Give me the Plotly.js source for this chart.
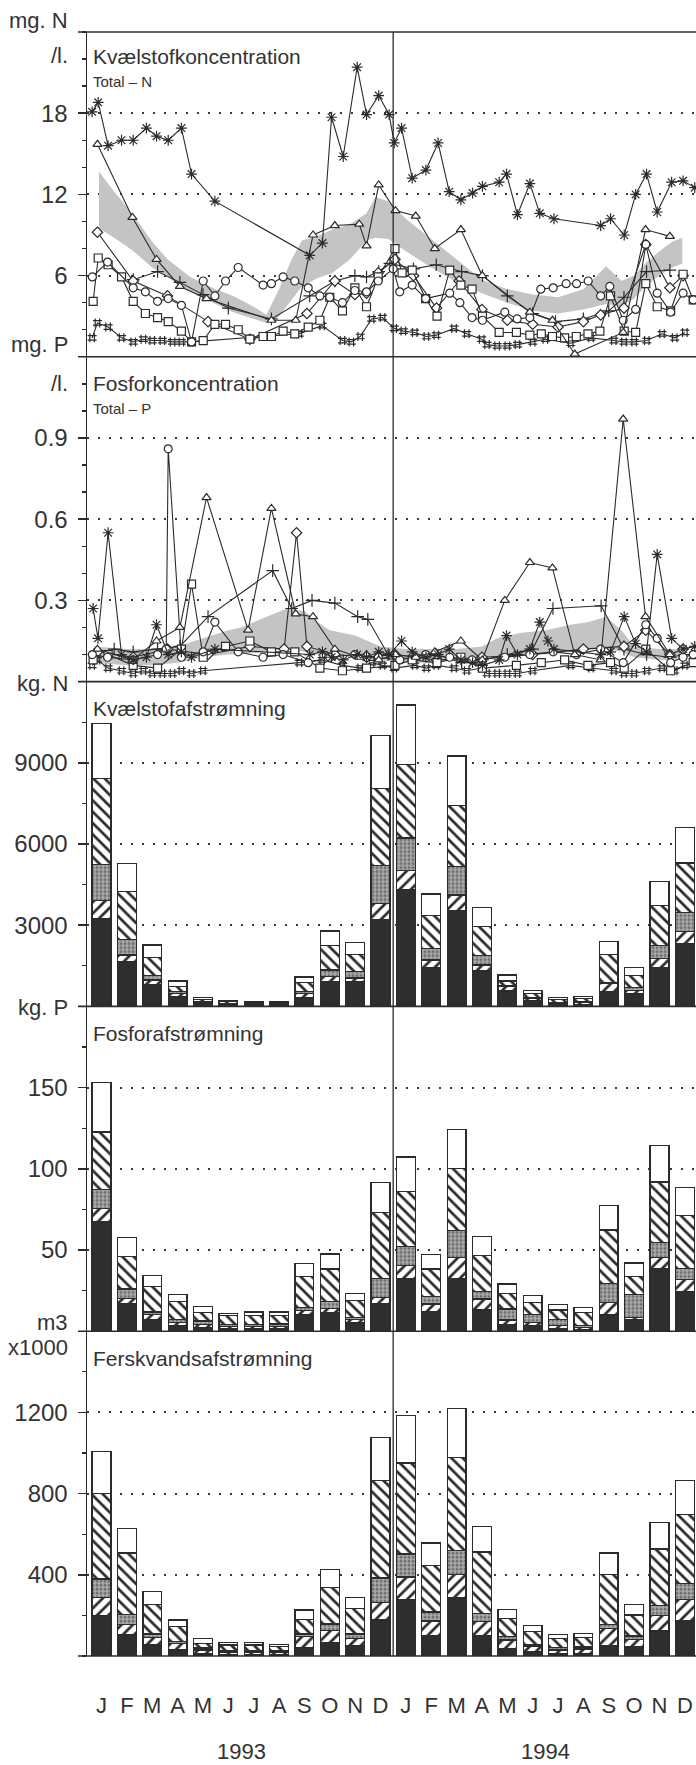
<!DOCTYPE html>
<html><head><meta charset="utf-8">
<script src="https://cdn.plot.ly/plotly-3.0.1.min.js"></script>
<style>body{margin:0;background:#fff}#c{width:696px;height:1765px}</style>
</head><body><div id="c"></div>
<script>
// ---------- categories ----------
const months = ['J','F','M','A','M','J','J','A','S','O','N','D','J','F','M','A','M','J','J','A','S','O','N','D'];
const monthIdx = months.map((m,i)=>i);
const years = ['1993','1994'];
const yearPos = [5.5,17.5];

// ---------- Kvælstofkoncentration (mg N/l), x = month index (fractional) ----------
const nAstX = [-0.37,-0.13,0.26,0.79,1.25,1.77,2.17,2.63,3.15,3.55,4.47,8.21,8.71,9.07,9.53,10.08,10.45,10.93,11.34,11.54,11.83,12.25,12.79,13.27,13.71,14.17,14.63,15.02,15.68,15.97,16.40,16.89,17.28,17.84,19.68,20.07,20.61,21.06,21.49,21.91,22.48,22.93,23.39];
const nAstY = [18.1,18.8,15.6,16.0,16.0,16.9,16.3,16.0,16.9,13.5,11.5,7.5,8.4,17.7,14.8,21.4,17.9,19.3,17.9,15.8,16.9,13.2,13.8,15.8,12.2,11.6,12.1,12.6,12.9,13.5,10.5,12.8,10.6,10.2,9.7,10.2,9.0,12.0,13.5,10.7,12.9,13.0,12.5];
const nTriX = [-0.16,1.22,2.17,3.09,4.14,6.70,7.66,8.34,9.20,10.16,10.45,10.93,11.59,12.39,13.14,14.17,15.01,16.89,17.78,18.66,20.57,21.45,22.41];
const nTriY = [15.7,10.3,7.2,5.2,4.3,2.7,2.7,9.0,9.7,9.8,8.2,12.7,10.8,10.4,8.0,9.4,6.0,3.3,2.7,0.2,1.8,9.4,8.9];
const nCirX = [-0.36,0.24,1.25,1.73,2.21,2.63,3.15,3.55,4.01,4.47,4.89,5.39,6.37,6.70,7.16,7.62,8.15,8.61,9.0,9.5,9.99,10.45,10.91,11.5,11.76,12.25,12.78,13.73,14.13,14.61,15.02,15.90,16.39,16.89,17.32,17.81,18.32,18.73,19.19,19.68,20.04,20.57,21.06,21.46,21.91,22.44,22.93,23.33];
const nCirY = [5.9,7.0,5.1,4.8,4.1,4.3,3.8,1.1,5.6,4.5,5.6,6.6,5.3,5.4,5.9,5.6,5.1,4.5,4.4,4.0,4.9,4.8,5.6,6.5,4.8,5.3,4.3,4.7,4.0,2.9,2.7,3.3,2.8,2.9,5.0,5.1,5.4,5.4,5.6,4.5,5.2,2.7,3.5,8.3,4.7,3.3,4.7,4.2];
const nSqX = [-0.33,-0.13,0.26,0.79,1.25,1.73,2.21,2.63,3.15,3.55,4.01,4.47,4.89,5.39,5.85,6.37,6.70,7.16,7.62,8.15,8.61,9.0,9.5,9.99,10.45,10.91,11.57,11.85,12.25,12.78,13.23,13.73,14.17,14.61,15.02,15.68,16.36,16.89,17.34,17.78,18.26,18.72,19.18,19.65,20.07,20.61,21.06,21.46,21.91,22.44,22.93,23.33];
const nSqY = [4.1,7.3,6.8,5.9,4.1,3.2,2.9,2.6,1.9,1.1,1.2,2.4,2.4,2.0,1.3,1.5,1.5,1.9,1.7,2.2,2.7,4.4,3.4,5.1,3.7,5.9,8.0,6.2,6.4,4.3,3.0,6.4,5.3,5.0,3.0,1.8,1.8,1.6,1.7,1.5,1.4,1.5,1.7,1.9,4.5,1.9,1.8,5.4,3.7,3.4,6.1,4.2];
const nDiaX = [-0.16,1.25,2.6,4.2,5.85,8.1,9.2,9.99,10.45,10.91,11.57,12.3,13.21,14.1,15.0,16.0,17.0,18.0,19.0,19.68,20.6,21.46,22.41,22.93];
const nDiaY = [9.2,5.6,4.5,2.6,1.3,3.2,5.6,4.6,4.7,6.2,7.2,6.0,3.6,5.6,3.5,2.7,2.4,2.2,2.6,3.1,3.6,8.3,5.1,6.0];
const nPlusX = [1.25,2.21,3.09,4.0,5.0,6.7,8.21,9.2,9.99,10.45,10.93,11.37,12.3,13.2,14.2,15.02,16.0,17.0,17.9,19.0,20.0,20.6,21.49,22.41];
const nPlusY = [5.7,6.3,5.5,4.6,3.6,2.8,4.5,5.6,6.0,5.9,6.3,6.9,6.5,6.8,6.3,6.0,4.5,3.2,2.6,2.8,3.4,4.4,6.3,6.4];
const nHashX = [-0.37,-0.16,0.26,0.79,1.25,1.65,2.0,2.4,2.8,3.15,3.55,7.8,8.7,9.5,9.85,10.2,10.65,11.08,11.54,11.9,12.35,12.81,13.2,13.9,14.4,14.99,15.2,15.6,16.0,16.4,17.0,17.5,18.5,19.3,20.2,20.6,21.0,21.5,22.1,22.6,23.0];
const nHashY = [1.4,2.5,2.2,1.4,1.1,1.3,1.2,1.2,1.1,1.1,1.1,1.7,2.3,1.2,1.1,1.5,2.8,2.9,2.1,1.9,1.8,1.5,1.6,2.1,1.7,1.3,0.9,0.8,0.8,0.9,1.1,1.3,1.0,1.4,1.2,1.1,1.1,1.2,1.7,1.4,1.8];
const bandNX  = [-0.1,0.5,1.2,2.0,2.6,3.5,4.5,5.2,6.0,6.5,7.0,7.5,7.9,8.5,9.1,9.8,10.45,10.8,11.3,12.0,13.0,14.0,15.0,16.0,17.0,18.0,19.0,19.9,20.5,21.0,21.5,22.0,22.5,22.9];
const bandNLo = [9.5,8.8,7.9,6.6,5.9,4.8,3.9,3.3,2.8,2.5,3.0,4.2,5.2,5.8,6.2,7.2,8.6,8.8,8.7,7.8,6.6,5.5,4.7,4.0,3.4,3.2,3.5,3.9,3.7,4.3,5.3,6.0,6.6,6.9];
const bandNHi = [13.7,12.2,10.6,8.5,7.2,5.9,5.0,4.5,3.7,3.1,5.0,7.2,8.6,8.9,9.4,9.8,10.6,11.8,11.5,10.2,8.7,7.2,5.7,5.0,4.6,4.4,5.0,6.7,5.6,6.0,7.0,7.8,8.5,8.8];

// ---------- Fosforkoncentration (mg P/l) ----------
const pAstX = [-0.33,-0.14,0.26,0.79,1.25,1.77,2.17,2.63,3.15,3.55,4.47,8.21,8.71,9.07,9.53,10.08,10.45,10.93,11.34,11.83,12.25,12.79,13.27,13.71,14.17,14.63,15.02,15.68,15.97,16.40,16.89,17.28,17.6,17.84,19.68,20.07,20.61,21.06,21.49,21.91,22.48,22.93,23.39];
const pAstY = [0.27,0.16,0.55,0.10,0.08,0.09,0.21,0.10,0.11,0.09,0.12,0.10,0.11,0.09,0.08,0.10,0.09,0.11,0.10,0.15,0.11,0.09,0.10,0.12,0.08,0.07,0.06,0.08,0.17,0.10,0.12,0.22,0.15,0.12,0.10,0.11,0.24,0.14,0.11,0.47,0.16,0.12,0.13];
const pTriX = [-0.16,1.22,2.17,3.09,4.14,5.78,6.70,7.66,8.34,9.20,10.16,10.45,10.93,11.59,12.39,13.14,14.17,15.01,15.9,16.89,17.78,18.66,19.68,20.57,21.45,22.41];
const pTriY = [0.12,0.08,0.15,0.20,0.68,0.19,0.64,0.25,0.24,0.12,0.09,0.10,0.08,0.10,0.09,0.11,0.15,0.08,0.30,0.44,0.42,0.10,0.08,0.97,0.24,0.10];
const pCirX = [-0.36,0.24,1.25,2.21,2.55,2.63,3.15,4.01,4.47,5.39,6.37,7.16,8.15,9.0,9.99,10.91,11.76,12.78,13.73,14.61,15.90,16.89,17.81,18.73,19.68,20.57,21.46,21.91,22.44,22.93,23.33];
const pCirY = [0.10,0.09,0.08,0.10,0.12,0.86,0.09,0.11,0.22,0.11,0.09,0.10,0.07,0.09,0.10,0.09,0.08,0.10,0.09,0.08,0.09,0.10,0.11,0.10,0.12,0.07,0.21,0.16,0.07,0.09,0.10];
const pSqX = [-0.33,0.26,1.25,2.21,3.15,3.55,4.01,4.89,5.85,6.70,7.62,8.61,9.5,10.45,11.57,12.25,13.23,14.17,15.02,16.36,17.34,18.26,19.18,20.07,20.61,21.46,22.44,23.33];
const pSqY = [0.08,0.10,0.06,0.05,0.12,0.36,0.09,0.13,0.15,0.11,0.11,0.05,0.04,0.05,0.06,0.08,0.07,0.09,0.05,0.06,0.07,0.08,0.06,0.07,0.05,0.12,0.04,0.07];
const pDiaX = [-0.16,1.25,2.6,4.2,5.85,7.2,7.69,8.1,9.2,10.45,11.57,13.21,15.0,17.0,19.0,20.6,21.46,22.41,22.93];
const pDiaY = [0.11,0.09,0.12,0.10,0.13,0.12,0.55,0.13,0.10,0.09,0.10,0.08,0.09,0.10,0.12,0.13,0.19,0.10,0.12];
const pPlusX = [-0.3,0.5,1.25,2.21,3.09,4.2,6.75,7.5,8.3,9.2,10.1,10.5,11.3,12.3,13.2,14.2,15.02,16.0,17.0,17.8,19.7,20.6,21.49,22.41,23.0];
const pPlusY = [0.10,0.12,0.11,0.12,0.13,0.24,0.41,0.27,0.30,0.29,0.24,0.23,0.10,0.08,0.10,0.07,0.08,0.10,0.12,0.27,0.28,0.12,0.10,0.09,0.10];
const pHashX = [-0.37,-0.16,0.26,0.79,1.25,1.65,2.0,2.4,2.8,3.15,3.55,4.0,7.8,8.7,9.5,10.2,10.65,11.08,11.54,12.35,12.81,13.2,13.9,14.4,14.99,15.2,15.6,16.0,16.4,17.0,18.5,19.3,20.2,20.6,21.0,21.5,22.1,22.6,23.0];
const pHashY = [0.06,0.08,0.05,0.04,0.03,0.04,0.03,0.03,0.03,0.04,0.03,0.04,0.07,0.08,0.06,0.05,0.07,0.06,0.05,0.06,0.05,0.06,0.05,0.04,0.05,0.03,0.03,0.03,0.03,0.04,0.06,0.05,0.04,0.03,0.03,0.04,0.05,0.04,0.06];
const bandPX  = [-0.3,1,2,3,4,5,5.5,6.5,7.3,8,8.5,9,10,11,12,13,14,15,15.6,16.5,17.5,18.5,19.2,19.9,20.5,21,22,23];
const bandPLo = [0.07,0.06,0.06,0.07,0.09,0.10,0.10,0.11,0.12,0.11,0.10,0.10,0.09,0.08,0.07,0.07,0.08,0.08,0.09,0.10,0.10,0.11,0.12,0.12,0.11,0.09,0.08,0.08];
const bandPHi = [0.13,0.12,0.12,0.13,0.16,0.19,0.20,0.24,0.27,0.26,0.22,0.19,0.17,0.13,0.12,0.12,0.12,0.13,0.16,0.18,0.19,0.21,0.22,0.24,0.19,0.13,0.12,0.12];

// ---------- Kvælstofafstrømning (kg N), stacked per month ----------
const kgN_black  = [3230,1650,810,360,100,60,50,50,320,910,910,3220, 4310,1440,3530,1310,570,230,80,80,540,480,1440,2300];
const kgN_slash  = [690,250,160,120,40,40,30,30,160,190,140,570, 700,270,590,220,160,80,50,60,310,100,340,470];
const kgN_gray   = [1310,560,160,60,20,10,10,10,60,250,230,1410, 1210,430,1050,350,50,30,20,20,40,110,470,700];
const kgN_bslash = [3180,1790,680,190,90,70,60,60,330,890,640,2850, 2720,1210,2260,1070,160,140,110,120,1040,450,1470,1830];
const kgN_white  = [2050,1020,460,210,70,40,40,40,220,550,450,1960, 2200,800,1820,700,220,120,70,80,480,300,900,1320];

// ---------- Fosforafstrømning (kg P) ----------
const kgP_black  = [67.7,17.1,7.4,3.7,2.2,1.5,1.5,1.5,10.5,11.5,5.3,16.7, 32.5,12.1,32.5,13.0,4.3,3.3,1.7,1.0,9.9,7.4,38.7,24.3];
const kgP_slash  = [8.0,3.1,3.1,1.7,2.1,1.5,1.5,1.5,2.4,2.4,2.1,4.1, 7.8,4.6,13.0,6.8,2.6,2.1,2.0,1.2,7.8,1.0,6.8,7.4];
const kgP_gray   = [11.5,5.7,1.4,1.9,2.0,1.0,1.0,1.5,1.7,4.2,1.0,11.7, 11.8,4.7,16.4,4.7,6.7,5.1,3.3,1.3,11.7,14.0,9.2,7.0];
const kgP_bslash = [35.5,20.2,15.7,10.8,5.2,5.5,5.5,5.0,18.9,20.2,10.3,40.8, 34.1,16.9,38.1,22.0,9.8,7.2,6.0,8.0,32.9,11.3,37.1,32.5];
const kgP_white  = [30.4,11.5,6.5,4.5,3.5,1.6,2.4,2.4,8.3,9.2,4.5,18.1, 21.0,8.8,24.3,11.9,5.6,4.5,3.3,3.1,15.1,8.3,22.6,17.1];

// ---------- Ferskvandsafstrømning (m3 x1000) ----------
const m3_black  = [198,107,54,30,10,8,8,8,43,66,49,178, 280,100,285,102,38,21,12,12,51,46,123,174];
const m3_slash  = [90,49,37,33,20,12,12,12,52,59,38,87, 109,73,115,67,41,25,18,23,86,36,75,106];
const m3_gray   = [92,50,18,9,10,5,5,5,14,33,22,119, 113,43,119,42,16,8,13,10,17,17,50,76];
const m3_bslash = [420,301,146,73,23,29,29,23,72,181,126,480, 449,230,460,301,91,66,44,47,249,103,279,340];
const m3_white  = [206,120,63,33,24,13,13,10,46,86,53,214, 234,110,239,127,44,30,20,20,104,50,131,170];

// ---------- tick labels ----------
const nTicks = [6,12,18], pTicks = [0.3,0.6,0.9], kgNTicks = [3000,6000,9000], kgPTicks = [50,100,150], m3Ticks = [400,800,1200];

// ================= build =================
const INK = '#2b2b2b';
const FONT = 'Liberation Sans, Arial, Helvetica, sans-serif';
const TICKSIZE = 24;
const traces = [];

function band(x, lo, hi, ya){
  traces.push({type:'scatter', mode:'lines', x:x, y:lo, yaxis:ya, line:{width:0}, hoverinfo:'skip', showlegend:false});
  traces.push({type:'scatter', mode:'lines', x:x, y:hi, yaxis:ya, line:{width:0}, fill:'tonexty', fillcolor:'#c4c4c4', hoverinfo:'skip', showlegend:false});
}
function series(x, y, sym, ya){
  const lineOnly = /open/.test(sym);
  traces.push({type:'scatter', mode:'lines+markers', x:x, y:y, yaxis:ya, cliponaxis:true,
    line:{color:INK, width:1.1},
    marker:{symbol:sym, size: lineOnly ? 9 : 8, color: lineOnly ? INK : 'white', line:{color:INK, width:1.2}},
    showlegend:false});
}
band(bandNX, bandNLo, bandNHi, 'y');
series(nHashX, nHashY, 'hash-open', 'y');
series(nPlusX, nPlusY, 'cross-thin-open', 'y');
series(nDiaX, nDiaY, 'diamond', 'y');
series(nSqX, nSqY, 'square', 'y');
series(nCirX, nCirY, 'circle', 'y');
series(nTriX, nTriY, 'triangle-up', 'y');
series(nAstX, nAstY, 'asterisk-open', 'y');

band(bandPX, bandPLo, bandPHi, 'y2');
series(pHashX, pHashY, 'hash-open', 'y2');
series(pPlusX, pPlusY, 'cross-thin-open', 'y2');
series(pDiaX, pDiaY, 'diamond', 'y2');
series(pSqX, pSqY, 'square', 'y2');
series(pCirX, pCirY, 'circle', 'y2');
series(pTriX, pTriY, 'triangle-up', 'y2');
series(pAstX, pAstY, 'asterisk-open', 'y2');

const layerStyles = [
  {color:'#2e2e2e'},
  {color:'white', pattern:{shape:'/', fgcolor:INK, bgcolor:'white', size:8, solidity:0.34}},
  {color:'#a0a0a0', pattern:{shape:'.', fgcolor:'#6e6e6e', bgcolor:'#ababab', size:4, solidity:0.45}},
  {color:'white', pattern:{shape:'\\', fgcolor:INK, bgcolor:'white', size:8, solidity:0.34}},
  {color:'white'}
];
function stack(layers, ya){
  layers.forEach((vals, i) => {
    const st = layerStyles[i];
    const marker = {color: st.color, line:{color:INK, width:1.3}};
    if (st.pattern) marker.pattern = st.pattern;
    traces.push({type:'bar', x:monthIdx, y:vals, yaxis:ya, marker:marker, showlegend:false, hoverinfo:'y'});
  });
}
stack([kgN_black,kgN_slash,kgN_gray,kgN_bslash,kgN_white], 'y3');
stack([kgP_black,kgP_slash,kgP_gray,kgP_bslash,kgP_white], 'y4');
stack([m3_black,m3_slash,m3_gray,m3_bslash,m3_white], 'y5');

// geometry (pixels): plot area x 87..696, y 32..1656
const T = 32, B = 1656, H = B - T, L = 87, W = 696 - L;
const py = v => (B - v) / H;           // pixel y -> paper y
const px = v => (v - L) / W;           // pixel x -> paper x

function yax(k, range, tv, dminor){
  return {
    domain:[1 - (k+1)/5, 1 - k/5], range:range, anchor:'x',
    tickmode:'array', tickvals:tv, ticktext:tv.map(String),
    showline:true, linecolor:INK, linewidth:1.5,
    ticks:'outside', ticklen:8, tickwidth:1.5, tickcolor:INK,
    ticklabelstandoff:5,
    tickfont:{family:FONT, size:TICKSIZE, color:'#333'},
    showgrid:true, gridcolor:'#3a3a3a', gridwidth:2, griddash:'2px,9px',
    zeroline:false, fixedrange:true,
    minor:{tickmode:'linear', tick0:0, dtick:dminor, ticks:'outside', ticklen:4, tickwidth:1.3, tickcolor:INK, showgrid:false}
  };
}

const shapes = [];
for (let k = 0; k <= 5; k++) {
  shapes.push({type:'line', xref:'paper', yref:'paper', x0:px(78), x1:1, y0:k/5, y1:k/5, line:{color:INK, width:1.6}});
}
shapes.push({type:'line', xref:'x', yref:'paper', x0:11.5, x1:11.5, y0:0, y1:1, line:{color:INK, width:1.3}});

const ann = [];
function txt(t, xp, yp, size, anchor){
  ann.push({text:t, xref:'paper', yref:'paper', x:xp, y:yp, xanchor:anchor, yanchor:'middle', showarrow:false,
            font:{family:FONT, size:size, color:'#333'}});
}
// unit labels
const UNIT = 22;
txt('mg. N', px(70), py(20), UNIT, 'right');
txt('/l.',   px(70), py(56), UNIT, 'right');
txt('mg. P', px(70), py(344), UNIT, 'right');
txt('/l.',   px(70), py(383), UNIT, 'right');
txt('kg. N', px(70), py(683), UNIT, 'right');
txt('kg. P', px(70), py(1008), UNIT, 'right');
txt('m3',    px(70), py(1322), UNIT, 'right');
txt('x1000', px(70), py(1347), UNIT, 'right');
// panel titles
txt('Kvælstofkoncentration', px(91), py(57), 21, 'left');
txt('Total – N', px(91), py(82), 15, 'left');
txt('Fosforkoncentration', px(91), py(383), 21, 'left');
txt('Total – P', px(91), py(408), 15, 'left');
txt('Kvælstofafstrømning', px(91), py(708), 21, 'left');
txt('Fosforafstrømning', px(91), py(1033), 21, 'left');
txt('Ferskvandsafstrømning', px(91), py(1358), 21, 'left');
// years
years.forEach((y,i) => ann.push({text:y, xref:'x', yref:'paper', x:yearPos[i], y:py(1752), xanchor:'center', yanchor:'middle',
  showarrow:false, font:{family:FONT, size:22, color:'#333'}}));

const layout = {
  width:696, height:1765, margin:{l:L, r:0, t:T, b:1765-B, pad:0},
  paper_bgcolor:'white', plot_bgcolor:'white', showlegend:false,
  barmode:'stack', bargap:0.26,
  font:{family:FONT, size:TICKSIZE, color:'#333'},
  xaxis:{range:[-0.572, 23.44], anchor:'y5', tickmode:'array', tickvals:monthIdx, ticktext:months,
         ticks:'', showline:false, showgrid:false, zeroline:false, fixedrange:true,
         ticklabelstandoff:34, tickfont:{family:FONT, size:22, color:'#333'}},
  yaxis:  yax(0, [0,24], nTicks, 2),
  yaxis2: yax(1, [0,1.2], pTicks, 0.1),
  yaxis3: yax(2, [0,12000], kgNTicks, 1500),
  yaxis4: yax(3, [0,200], kgPTicks, 25),
  yaxis5: yax(4, [0,1600], m3Ticks, 200),
  shapes:shapes, annotations:ann
};
Plotly.newPlot('c', traces, layout, {staticPlot:true, displayModeBar:false});
</script></body></html>
